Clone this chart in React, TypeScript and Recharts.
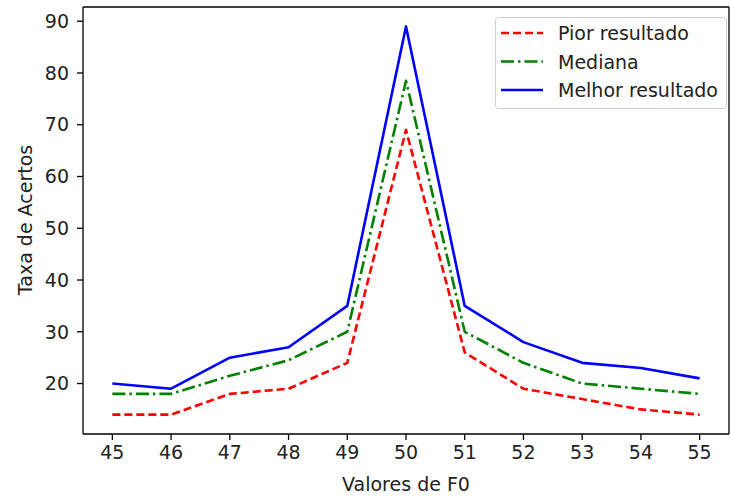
import React from 'react';
import { LineChart, Line, XAxis, YAxis, Legend, Label, ReferenceLine } from 'recharts';

// Valores de F0 (eixo x) e taxas de acerto
const f0Values = [45, 46, 47, 48, 49, 50, 51, 52, 53, 54, 55];
const piorValues = [14, 14, 18, 19, 24, 69, 26, 19, 17, 15, 14];
const medianaValues = [18, 18, 21.5, 24.5, 30, 78.5, 30, 24, 20, 19, 18];
const melhorValues = [20, 19, 25, 27, 35, 89, 35, 28, 24, 23, 21];

const xTicks = [45, 46, 47, 48, 49, 50, 51, 52, 53, 54, 55];
const yTicks = [20, 30, 40, 50, 60, 70, 80, 90];

// limites dos eixos (margem de 5% como no matplotlib)
const xDomain: [number, number] = [44.5, 55.5];
const yDomain: [number, number] = [10.25, 92.75];

const data = f0Values.map((f0, i) => ({
  f0,
  pior: piorValues[i],
  mediana: medianaValues[i],
  melhor: melhorValues[i],
}));

const FONT = '"DejaVu Sans", sans-serif';
const TEXT = '#222';

const series = [
  { key: 'pior', name: 'Pior resultado', color: '#ff0000', dash: '8 4' },
  { key: 'mediana', name: 'Mediana', color: '#008000', dash: '13 4 2.5 4' },
  { key: 'melhor', name: 'Melhor resultado', color: '#0000ff', dash: undefined },
];

const LegendBox = () => (
  <svg width={232} height={92} style={{ display: 'block' }}>
    <rect x={0.5} y={0.5} width={231} height={91} rx={3} fill="rgba(255,255,255,0.8)" stroke="#d0d0d0" />
    {series.map((s, i) => {
      const cy = 16 + i * 28.5;
      return (
        <g key={s.key}>
          <line x1={6} x2={48} y1={cy} y2={cy} stroke={s.color} strokeWidth={2.6} strokeDasharray={s.dash} />
          <text x={63} y={cy + 7} fontSize={19} fontFamily={FONT} fill={TEXT}>
            {s.name}
          </text>
        </g>
      );
    })}
  </svg>
);

const XLabel = () => (
  <text x={406} y={491} textAnchor="middle" fontSize={19} fontFamily={FONT} fill={TEXT}>
    Valores de F0
  </text>
);

const YLabel = () => (
  <text x={32} y={220} transform="rotate(-90, 32, 220)" textAnchor="middle" fontSize={19} fontFamily={FONT} fill={TEXT}>
    Taxa de Acertos
  </text>
);

const App: React.FC = () => (
  <div style={{ position: 'absolute', left: 0, top: 0, width: 730, height: 496, background: '#fff' }}>
    <LineChart width={730} height={496} data={data} margin={{ top: 7, right: 1, left: 0, bottom: 0 }}>
      <XAxis
        dataKey="f0"
        type="number"
        domain={xDomain}
        ticks={xTicks}
        interval={0}
        allowDataOverflow
        height={62}
        tickSize={6}
        tickMargin={6}
        stroke="#000"
        axisLine={{ stroke: '#000', strokeWidth: 1.3 }}
        tickLine={{ stroke: '#000', strokeWidth: 1.3 }}
        tick={{ fill: TEXT, fontSize: 19, fontFamily: FONT }}
      >
        <Label content={XLabel} />
      </XAxis>
      <YAxis
        type="number"
        domain={yDomain}
        ticks={yTicks}
        interval={0}
        allowDataOverflow
        width={83}
        tickSize={6}
        tickMargin={8}
        stroke="#000"
        axisLine={{ stroke: '#000', strokeWidth: 1.3 }}
        tickLine={{ stroke: '#000', strokeWidth: 1.3 }}
        tick={{ fill: TEXT, fontSize: 19, fontFamily: FONT }}
      >
        <Label content={YLabel} />
      </YAxis>
      {/* moldura superior e direita */}
      <ReferenceLine y={yDomain[1]} stroke="#000" strokeWidth={1.3} ifOverflow="extendDomain" />
      <ReferenceLine x={xDomain[1]} stroke="#000" strokeWidth={1.3} ifOverflow="extendDomain" />
      <Legend
        layout="vertical"
        align="center"
        verticalAlign="middle"
        wrapperStyle={{ left: 495, top: 17, width: 232, height: 92 }}
        content={LegendBox}
      />
      {series.map((s) => (
        <Line
          key={s.key}
          type="linear"
          dataKey={s.key}
          name={s.name}
          stroke={s.color}
          strokeWidth={2.6}
          strokeDasharray={s.dash}
          strokeLinejoin="round"
          dot={false}
          activeDot={false}
          isAnimationActive={false}
        />
      ))}
    </LineChart>
  </div>
);

export default App;
